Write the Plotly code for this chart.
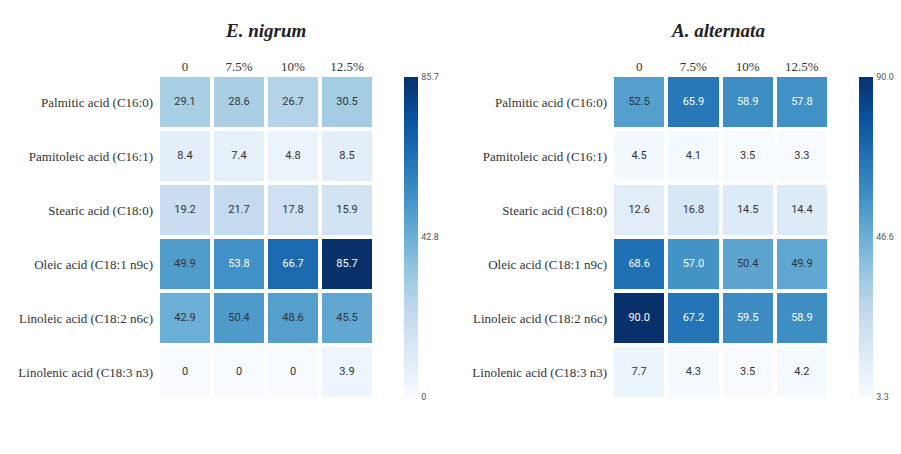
import plotly.graph_objects as go
import plotly.express as px

acids = ["Palmitic acid (C16:0)", "Pamitoleic acid (C16:1)", "Stearic acid (C18:0)",
         "Oleic acid (C18:1 n9c)", "Linoleic acid (C18:2 n6c)", "Linolenic acid (C18:3 n3)"]
doses = ["0", "7.5%", "10%", "12.5%"]

e_nigrum = [
    [29.1, 28.6, 26.7, 30.5],
    [8.4, 7.4, 4.8, 8.5],
    [19.2, 21.7, 17.8, 15.9],
    [49.9, 53.8, 66.7, 85.7],
    [42.9, 50.4, 48.6, 45.5],
    [0, 0, 0, 3.9],
]
a_alternata = [
    [52.5, 65.9, 58.9, 57.8],
    [4.5, 4.1, 3.5, 3.3],
    [12.6, 16.8, 14.5, 14.4],
    [68.6, 57.0, 50.4, 49.9],
    [90.0, 67.2, 59.5, 58.9],
    [7.7, 4.3, 3.5, 4.2],
]
titles = ["E. nigrum", "A. alternata"]
cbar_left = [0, 42.8, 85.7]
cbar_right = [3.3, 46.6, 90.0]

W, H = 901, 454
blues = px.colors.sequential.Blues


def fx(p):
    return p / W


def fy(p):
    return 1 - p / H


fig = go.Figure()

panels = [
    dict(z=e_nigrum, title=titles[0], ticks=cbar_left, xdom=(158, 374), cbx=404, tx=265, ax="x", ay="y"),
    dict(z=a_alternata, title=titles[1], ticks=cbar_right, xdom=(612, 829), cbx=859, tx=718, ax="x2", ay="y2"),
]

for i, p in enumerate(panels):
    z = p["z"]
    zmin = min(min(r) for r in z)
    zmax = max(max(r) for r in z)
    fig.add_trace(go.Heatmap(
        z=z, x=doses, y=acids, xaxis=p["ax"], yaxis=p["ay"],
        colorscale=blues, zmin=zmin, zmax=zmax, xgap=4, ygap=4,
        hoverinfo="skip",
        colorbar=dict(
            x=fx(p["cbx"]), xanchor="left", xpad=0, ypad=0,
            y=fy(237), yanchor="middle", len=320, lenmode="pixels",
            thickness=14, outlinewidth=0, ticks="outside", ticklen=2, tickcolor="rgba(0,0,0,0)",
            tickvals=p["ticks"], ticktext=[("0" if t == 0 else f"{t:.1f}") for t in p["ticks"]],
            tickfont=dict(family="Roboto", size=9, color="#555"),
        ),
    ))
    xs, ys, txt, cols = [], [], [], []
    for ri, row in enumerate(z):
        for ci, v in enumerate(row):
            xs.append(doses[ci])
            ys.append(acids[ri])
            txt.append("0" if v == 0 else f"{v:.1f}")
            norm = (v - zmin) / (zmax - zmin)
            cols.append("white" if norm > 0.6 else "#333333")
    fig.add_trace(go.Scatter(
        x=xs, y=ys, text=txt, mode="text", xaxis=p["ax"], yaxis=p["ay"],
        textfont=dict(family="Roboto", size=11, color=cols),
        hoverinfo="skip", showlegend=False,
    ))
    fig.add_annotation(
        x=fx(p["tx"]), y=fy(31), xref="paper", yref="paper",
        text=f"<b><i>{p['title']}</i></b>", showarrow=False,
        font=dict(family="Liberation Serif", size=19, color="#222"),
        xanchor="center", yanchor="middle",
    )

axis_common = dict(showgrid=False, zeroline=False, showline=False, ticks="",
                   tickfont=dict(family="Liberation Serif", size=13, color="#333"))
fig.update_layout(
    width=W, height=H, margin=dict(l=0, r=0, t=0, b=0),
    paper_bgcolor="white", plot_bgcolor="white", showlegend=False,
    xaxis=dict(domain=[fx(158), fx(374)], side="top", anchor="y", **axis_common),
    yaxis=dict(domain=[fy(399), fy(75)], autorange="reversed", anchor="x", ticklabelstandoff=4, **axis_common),
    xaxis2=dict(domain=[fx(612), fx(829)], side="top", anchor="y2", **axis_common),
    yaxis2=dict(domain=[fy(399), fy(75)], autorange="reversed", anchor="x2", ticklabelstandoff=4, **axis_common),
)

fig.write_html("out.html")
